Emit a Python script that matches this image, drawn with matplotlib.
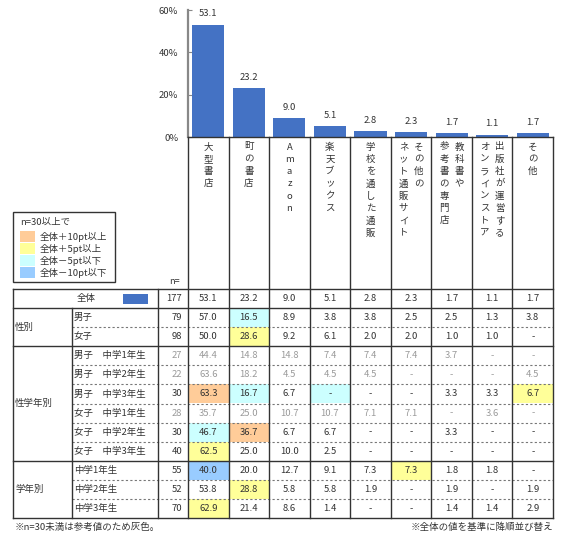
import numpy as np
import matplotlib.pyplot as plt
from matplotlib.patches import Rectangle

plt.rcParams['font.family'] = ['Noto Sans CJK JP', 'DejaVu Sans']

# ---- data ----
categories = ['大型書店', '町の書店', 'Amazon', '楽天ブックス', '学校を通した通販',
              'その他の\nネット通販サイト', '教科書や\n参考書の専門店',
              '出版社が運営する\nオンラインストア', 'その他']
total_n = 177
total_vals = [53.1, 23.2, 9.0, 5.1, 2.8, 2.3, 1.7, 1.1, 1.7]

groups = ['性別', '性学年別', '学年別']
group_sizes = [2, 6, 3]
row_labels = ['男子', '女子',
              '男子　中学1年生', '男子　中学2年生', '男子　中学3年生',
              '女子　中学1年生', '女子　中学2年生', '女子　中学3年生',
              '中学1年生', '中学2年生', '中学3年生']
row_n = [79, 98, 27, 22, 30, 28, 30, 40, 55, 52, 70]
nan = np.nan
row_vals = [
    [57.0, 16.5, 8.9, 3.8, 3.8, 2.5, 2.5, 1.3, 3.8],
    [50.0, 28.6, 9.2, 6.1, 2.0, 2.0, 1.0, 1.0, nan],
    [44.4, 14.8, 14.8, 7.4, 7.4, 7.4, 3.7, nan, nan],
    [63.6, 18.2, 4.5, 4.5, 4.5, nan, nan, nan, 4.5],
    [63.3, 16.7, 6.7, nan, nan, nan, 3.3, 3.3, 6.7],
    [35.7, 25.0, 10.7, 10.7, 7.1, 7.1, nan, 3.6, nan],
    [46.7, 36.7, 6.7, 6.7, nan, nan, 3.3, nan, nan],
    [62.5, 25.0, 10.0, 2.5, nan, nan, nan, nan, nan],
    [40.0, 20.0, 12.7, 9.1, 7.3, 7.3, 1.8, 1.8, nan],
    [53.8, 28.8, 5.8, 5.8, 1.9, nan, 1.9, nan, 1.9],
    [62.9, 21.4, 8.6, 1.4, nan, nan, 1.4, 1.4, 2.9],
]

legend_labels = ['全体＋10pt以上', '全体＋5pt以上', '全体－5pt以下', '全体－10pt以下']
hl_colors = ['#FFCC99', '#FFFF99', '#CCFFFF', '#99CCFF']

BAR = '#4472C4'
DARK = '#333333'
GRAY = '#9A9A9A'
FS = 6.8

W, H = 567, 534
fig = plt.figure(figsize=(W / 100, H / 100), dpi=100)

# geometry (pixels)
col_x0, col_x1 = 188, 553
ncol = len(categories)
cw = (col_x1 - col_x0) / ncol
axis_top, axis_bot = 10, 137
tab_top, tab_bot = 289, 518
nrows = 1 + len(row_labels)
rh = (tab_bot - tab_top) / nrows

# ---- bar chart ----
ax = fig.add_axes([col_x0 / W, 1 - axis_bot / H, (col_x1 - col_x0) / W, (axis_bot - axis_top) / H])
x = np.arange(ncol)
ax.bar(x, total_vals, width=0.79, color=BAR, zorder=2)
for xi, v in zip(x, total_vals):
    ax.annotate(f'{v:.1f}', (xi, v), xytext=(0, 4.5), textcoords='offset points',
                ha='center', va='bottom', fontsize=FS, color=DARK)
ax.set_xlim(-0.5, ncol - 0.5)
ax.set_ylim(0, 60)
ax.set_yticks([0, 20, 40, 60])
ax.set_yticklabels(['0%', '20%', '40%', '60%'], fontsize=FS, color=DARK)
ax.set_xticks([])
ax.tick_params(axis='y', direction='in', length=3, color='#888888', pad=7)
for s in ['top', 'right', 'bottom']:
    ax.spines[s].set_visible(False)
ax.spines['left'].set_color('#888888')
ax.spines['left'].set_linewidth(1.6)
ax.patch.set_alpha(0)

# ---- overlay for table ----
ov = fig.add_axes([0, 0, 1, 1])
ov.set_xlim(0, W)
ov.set_ylim(H, 0)
ov.axis('off')
ov.patch.set_alpha(0)

def ctr(j):
    return col_x0 + cw * (j + 0.5)

# vertical category labels
for j, lab in enumerate(categories):
    lines = lab.split('\n')
    nl = len(lines)
    for i, line in enumerate(lines):
        lx = ctr(j) + (nl - 1) / 2 * 15 - i * 15
        for k, ch in enumerate(line):
            ov.text(lx, 147 + k * 12.3, ch, ha='center', va='center', fontsize=FS, color=DARK)

# highlight cells
base = np.array(total_vals)
for r, (n, vals) in enumerate(zip(row_n, row_vals)):
    if n < 30:
        continue
    y0 = tab_top + rh * (r + 1)
    for j, v in enumerate(vals):
        d = round((0 if np.isnan(v) else v) - base[j], 1)
        c = None
        if d >= 10:
            c = hl_colors[0]
        elif d >= 5:
            c = hl_colors[1]
        elif d <= -10:
            c = hl_colors[3]
        elif d <= -5:
            c = hl_colors[2]
        if c:
            ov.add_patch(Rectangle((col_x0 + cw * j, y0), cw, rh, color=c, lw=0, zorder=0))

# total row
yc = tab_top + rh / 2
ov.text(86, yc, '全体', ha='center', va='center', fontsize=FS, color=DARK)
ov.add_patch(Rectangle((123, yc - 5), 25, 10, color=BAR, lw=0))
ov.text(182, yc, str(total_n), ha='right', va='center', fontsize=FS, color=DARK)
for j, v in enumerate(total_vals):
    ov.text(ctr(j), yc, f'{v:.1f}', ha='center', va='center', fontsize=FS, color=DARK)

# other rows
for r, (lab, n, vals) in enumerate(zip(row_labels, row_n, row_vals)):
    yc = tab_top + rh * (r + 1.5)
    tc = GRAY if n < 30 else DARK
    ov.text(74, yc, lab, ha='left', va='center', fontsize=FS, color=DARK)
    ov.text(182, yc, str(n), ha='right', va='center', fontsize=FS, color=tc)
    for j, v in enumerate(vals):
        s = '-' if np.isnan(v) else f'{v:.1f}'
        ov.text(ctr(j), yc, s, ha='center', va='center', fontsize=FS, color=tc)

# group labels and lines
start = 1
solid_y = [tab_top, tab_top + rh]
dash_y = []
for g, sz in zip(groups, group_sizes):
    ov.text(15, tab_top + rh * (start + sz / 2), g, ha='left', va='center', fontsize=FS, color=DARK)
    for k in range(1, sz):
        dash_y.append(tab_top + rh * (start + k))
    start += sz
    solid_y.append(tab_top + rh * start)

for yy in solid_y:
    ov.plot([13, col_x1], [yy, yy], color=DARK, lw=1)
for yy in dash_y:
    ov.plot([72, col_x1], [yy, yy], color='#777777', lw=0.8, ls=(0, (2, 2)))

ov.plot([col_x0, col_x1], [axis_bot, axis_bot], color=DARK, lw=1)
for j in range(ncol + 1):
    xx = col_x0 + cw * j
    ov.plot([xx, xx], [axis_bot, tab_bot], color=DARK, lw=1)
ov.plot([13, 13], [tab_top, tab_bot], color=DARK, lw=1)
ov.plot([158, 158], [tab_top, tab_bot], color=DARK, lw=1)
ov.plot([72, 72], [tab_top + rh, tab_bot], color=DARK, lw=1)

ov.text(180, 282, 'n=', ha='right', va='center', fontsize=FS - 0.3, color=DARK)

# legend box
ov.add_patch(Rectangle((13, 212), 102, 70, fill=False, ec=DARK, lw=1))
ov.text(20, 222, 'n=30以上で', ha='left', va='center', fontsize=FS, color=DARK)
for i, (lab, c) in enumerate(zip(legend_labels, hl_colors)):
    y0 = 231 + i * 12
    ov.add_patch(Rectangle((20, y0), 15, 11, color=c, lw=0))
    ov.text(40, y0 + 5.5, lab, ha='left', va='center', fontsize=FS, color=DARK)

# footnotes
ov.text(15, 527, '※n=30未満は参考値のため灰色。', ha='left', va='center', fontsize=FS, color=DARK)
ov.text(553, 527, '※全体の値を基準に降順並び替え', ha='right', va='center', fontsize=FS, color=DARK)

fig.savefig('out.png', dpi=100)
